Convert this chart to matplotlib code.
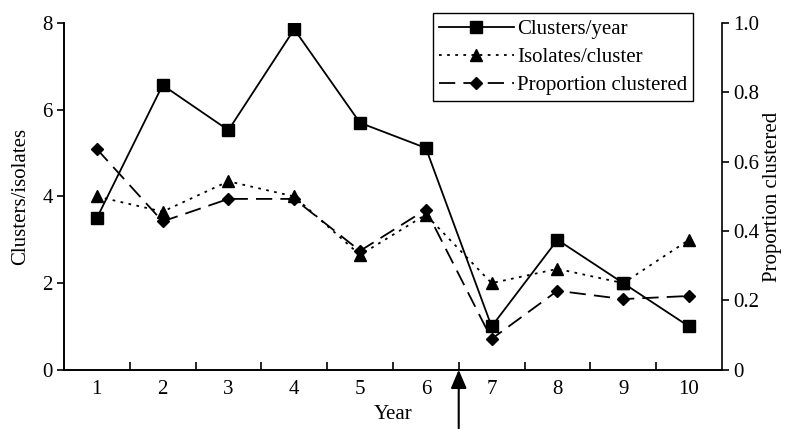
import matplotlib.pyplot as plt

plt.rcParams['font.family'] = ['Liberation Serif', 'DejaVu Serif']
plt.rcParams['font.size'] = 15

years = [1, 2, 3, 4, 5, 6, 7, 8, 9, 10]
clusters_per_year = [3.5, 6.57, 5.53, 7.86, 5.7, 5.12, 1.0, 3.0, 2.0, 1.0]
isolates_per_cluster = [4.0, 3.65, 4.35, 4.0, 2.65, 3.58, 2.0, 2.33, 2.0, 3.0]
prop_clustered = [0.637, 0.428, 0.493, 0.493, 0.343, 0.462, 0.089, 0.228, 0.204, 0.213]

fig, ax = plt.subplots(figsize=(7.89, 4.29), dpi=100)
fig.subplots_adjust(left=0.081, right=0.915, top=0.946, bottom=0.138)
ax2 = ax.twinx()

l1, = ax.plot(years, clusters_per_year, color='black', lw=1.3, ls='-',
              marker='s', ms=8, label='Clusters/year')
l2, = ax.plot(years, isolates_per_cluster, color='black', lw=1.3, ls=(0, (1.5, 3)),
              marker='^', ms=8.5, label='Isolates/cluster')
l3, = ax2.plot(years, prop_clustered, color='black', lw=1.3, ls=(0, (9, 4.5)),
               marker='D', ms=6.5, label='Proportion clustered')

ax.set_xlim(0.5, 10.5)
ax.set_ylim(0, 8)
ax2.set_ylim(0, 1.0)
ax.set_yticks([0, 2, 4, 6, 8])
ax2.set_yticks([0, 0.2, 0.4, 0.6, 0.8, 1.0])
ax2.set_yticklabels(['0', '0.2', '0.4', '0.6', '0.8', '1.0'])

# category axis: ticks between years, labels centred on years
ax.set_xticks([x + 0.5 for x in years[:-1]])
ax.set_xticklabels([])
ax.set_xticks(years, minor=True)
ax.set_xticklabels([str(y) for y in years], minor=True)
ax.tick_params(axis='x', which='major', direction='in', length=6, width=1.2)
ax.tick_params(axis='x', which='minor', length=0, pad=7)
ax.tick_params(axis='y', direction='out', length=5, width=1.2, pad=3)
ax2.tick_params(axis='y', direction='out', length=5, width=1.2, pad=3)

for a in (ax, ax2):
    a.spines['top'].set_visible(False)
    for s in a.spines.values():
        s.set_linewidth(1.2)
ax.spines['right'].set_visible(False)

ax.set_xlabel('Year', labelpad=5)
ax.set_ylabel('Clusters/isolates', labelpad=9)
ax2.set_ylabel('Proportion clustered', labelpad=3)

ax.annotate('', xy=(6.5, 0), xytext=(6.5, -1.35), xycoords='data',
            annotation_clip=False,
            arrowprops=dict(arrowstyle='-|>,head_length=0.7,head_width=0.3',
                            color='black', lw=1.5,
                            mutation_scale=16, shrinkA=0, shrinkB=0))

leg = ax.legend(handles=[l1, l2, l3], loc='upper right', bbox_to_anchor=(0.963, 1.04),
                frameon=True, fancybox=False, edgecolor='black', framealpha=1,
                handlelength=3.6, borderpad=0.3, labelspacing=0.4, handletextpad=0.15,
                borderaxespad=0.2)
leg.get_frame().set_linewidth(1.0)

fig.savefig('out.png', dpi=100)
